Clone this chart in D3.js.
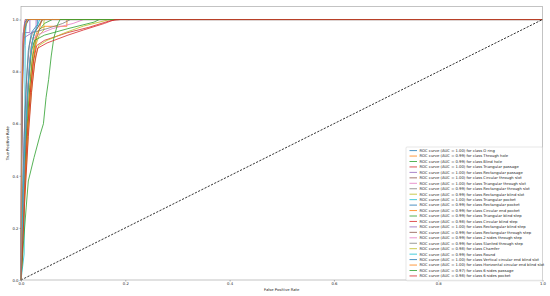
<!DOCTYPE html>
<html><head><meta charset="utf-8">
<script src="https://cdn.jsdelivr.net/npm/d3@7"></script>
<style>html,body{margin:0;padding:0;background:#fff;}svg{display:block;font-family:"DejaVu Sans",sans-serif;}</style>
</head><body>
<svg id="c" width="550" height="296"></svg>
<script>
const classNames = ["O ring","Through hole","Blind hole","Triangular passage","Rectangular passage","Circular through slot","Triangular through slot","Rectangular through slot","Rectangular blind slot","Triangular pocket","Rectangular pocket","Circular end pocket","Triangular blind step","Circular blind step","Rectangular blind step","Rectangular through step","2-sides through step","Slanted through step","Chamfer","Round","Vertical circular end blind slot","Horizontal circular end blind slot","6-sides passage","6-sides pocket"];
const aucValues = ["1.00","0.99","0.99","1.00","1.00","1.00","1.00","0.99","0.99","1.00","0.99","0.99","0.99","0.98","1.00","0.99","0.99","0.99","0.98","0.99","1.00","1.00","0.97","0.98"];
const lineColors = ["#1f77b4","#ff7f0e","#2ca02c","#d62728","#9467bd","#8c564b","#e377c2","#7f7f7f","#bcbd22","#17becf"];
const xTicks = [0.0,0.2,0.4,0.6,0.8,1.0];
const yTicks = [0.0,0.2,0.4,0.6,0.8,1.0];
// [fpr, tpr] points for each class
const rocPoints = [
 [[0,0],[0.001,0.30],[0.002,0.62],[0.004,0.85],[0.006,0.95],[0.010,0.985],[0.016,1],[1,1]],
 [[0,0],[0.004,0.25],[0.008,0.45],[0.013,0.62],[0.018,0.78],[0.024,0.90],[0.030,0.95],[0.037,0.965],[0.046,0.974],[0.088,0.974],[0.088,1],[1,1]],
 [[0,0],[0.003,0.20],[0.007,0.42],[0.012,0.60],[0.017,0.74],[0.022,0.85],[0.028,0.92],[0.035,0.96],[0.045,0.985],[0.060,1],[1,1]],
 [[0,0],[0.001,0.45],[0.002,0.70],[0.003,0.88],[0.005,0.96],[0.008,1],[1,1]],
 [[0,0],[0.001,0.40],[0.002,0.72],[0.004,0.95],[0.017,0.95],[0.017,1],[1,1]],
 [[0,0],[0.001,0.50],[0.003,0.80],[0.006,0.94],[0.010,0.98],[0.014,1],[1,1]],
 [[0,0],[0.001,0.55],[0.002,0.80],[0.004,0.93],[0.007,0.99],[0.010,1],[1,1]],
 [[0,0],[0.004,0.30],[0.008,0.52],[0.012,0.70],[0.016,0.82],[0.020,0.90],[0.026,0.95],[0.035,0.98],[0.040,1],[1,1]],
 [[0,0],[0.005,0.28],[0.010,0.48],[0.016,0.68],[0.022,0.82],[0.028,0.90],[0.035,0.94],[0.044,0.96],[0.044,0.995],[0.046,1],[1,1]],
 [[0,0],[0.006,0.10],[0.007,0.50],[0.008,0.90],[0.010,1],[1,1]],
 [[0,0],[0.003,0.30],[0.006,0.55],[0.010,0.75],[0.014,0.88],[0.020,0.95],[0.030,0.977],[0.032,0.977],[0.032,1],[1,1]],
 [[0,0],[0.006,0.30],[0.012,0.55],[0.018,0.72],[0.024,0.85],[0.030,0.93],[0.036,0.97],[0.040,1],[1,1]],
 [[0,0],[0.004,0.30],[0.009,0.55],[0.014,0.75],[0.020,0.88],[0.026,0.92],[0.045,0.94],[0.090,0.965],[0.140,0.99],[0.150,1],[1,1]],
 [[0,0],[0.006,0.30],[0.012,0.55],[0.018,0.72],[0.024,0.84],[0.030,0.90],[0.045,0.92],[0.090,0.95],[0.130,0.97],[0.170,0.995],[0.190,1],[1,1]],
 [[0,0],[0.001,0.40],[0.003,0.75],[0.006,0.93],[0.029,0.96],[0.029,1],[1,1]],
 [[0,0],[0.005,0.35],[0.010,0.60],[0.015,0.78],[0.020,0.90],[0.026,0.95],[0.034,0.975],[0.042,1],[1,1]],
 [[0,0],[0.004,0.30],[0.008,0.55],[0.012,0.72],[0.017,0.85],[0.022,0.92],[0.030,0.94],[0.060,0.965],[0.100,0.985],[0.120,1],[1,1]],
 [[0,0],[0.003,0.35],[0.007,0.60],[0.011,0.78],[0.016,0.90],[0.022,0.95],[0.050,0.965],[0.080,0.985],[0.095,1],[1,1]],
 [[0,0],[0.008,0.35],[0.015,0.60],[0.022,0.76],[0.028,0.86],[0.034,0.90],[0.050,0.92],[0.085,0.95],[0.120,0.975],[0.170,1],[1,1]],
 [[0,0],[0.003,0.25],[0.007,0.50],[0.012,0.70],[0.017,0.84],[0.023,0.93],[0.030,0.97],[0.036,1],[1,1]],
 [[0,0],[0.001,0.50],[0.003,0.80],[0.005,0.94],[0.008,0.99],[0.012,1],[1,1]],
 [[0,0],[0.001,0.40],[0.002,0.70],[0.004,0.90],[0.007,0.97],[0.012,1],[1,1]],
 [[0,0],[0.005,0.15],[0.010,0.28],[0.014,0.38],[0.025,0.47],[0.037,0.56],[0.043,0.60],[0.048,0.70],[0.053,0.77],[0.058,0.86],[0.063,0.93],[0.070,0.98],[0.075,1],[1,1]],
 [[0,0],[0.007,0.30],[0.014,0.55],[0.020,0.72],[0.026,0.83],[0.032,0.89],[0.050,0.91],[0.090,0.94],[0.120,0.96],[0.160,0.985],[0.180,1],[1,1]]
];
const diagonal = [[0,0],[1,1]];

(function(){
const svg = d3.select("#c");
const pL = 21, pR = 542.5, pT = 6.5, pB = 280;
const x = d3.scaleLinear().domain([0,1]).range([pL, pR]);
const y = d3.scaleLinear().domain([0,1.05]).range([pB, pT]);
const fs = 3.8, lfs = 3.75;

const line = d3.line().x(d=>x(d[0])).y(d=>y(d[1]));
const g = svg.append("g");
rocPoints.forEach((pts,i)=>{
  g.append("path").attr("d", line(pts)).attr("fill","none")
   .attr("stroke", lineColors[i%10]).attr("stroke-width",0.8);
});
g.append("path").attr("d", line(diagonal)).attr("fill","none")
 .attr("stroke","#000").attr("stroke-width",0.8).attr("stroke-dasharray","2.2,1.4");

svg.append("rect").attr("x",pL).attr("y",pT).attr("width",pR-pL).attr("height",pB-pT)
 .attr("fill","none").attr("stroke","#aaa").attr("stroke-width",0.7);

const xa = svg.append("g").attr("transform",`translate(0,${pB})`)
 .call(d3.axisBottom(x).tickValues(xTicks).tickFormat(d3.format(".1f")).tickSize(1.5).tickPadding(1));
const ya = svg.append("g").attr("transform",`translate(${pL},0)`)
 .call(d3.axisLeft(y).tickValues(yTicks).tickFormat(d3.format(".1f")).tickSize(1.5).tickPadding(1));
[xa,ya].forEach(a=>{
  a.select(".domain").remove();
  a.selectAll("line").attr("stroke","#666").attr("stroke-width",0.5);
  a.selectAll("text").attr("font-size",fs).attr("fill","#222").attr("font-family","DejaVu Sans");
});

svg.append("text").attr("x",(pL+pR)/2).attr("y",291).attr("text-anchor","middle")
 .attr("font-size",fs).attr("fill","#222").text("False Positive Rate");
svg.append("text").attr("transform",`translate(9,${(pT+pB)/2}) rotate(-90)`).attr("text-anchor","middle")
 .attr("font-size",fs).attr("fill","#222").text("True Positive Rate");

const lgX = 406, lgY = 147, rowH = 5.45, lgW = 136.5;
const lg = svg.append("g");
lg.append("rect").attr("x",lgX).attr("y",lgY).attr("width",lgW).attr("height",rowH*classNames.length+3)
 .attr("rx",1).attr("fill","#fff").attr("fill-opacity",0.8).attr("stroke","#ccc").attr("stroke-width",0.5);
classNames.forEach((n,i)=>{
  const cy = lgY + 3.6 + i*rowH;
  lg.append("line").attr("x1",lgX+3.5).attr("x2",lgX+11).attr("y1",cy).attr("y2",cy)
    .attr("stroke",lineColors[i%10]).attr("stroke-width",0.8);
  lg.append("text").attr("x",lgX+13.5).attr("y",cy+1.35).attr("font-size",lfs).attr("fill","#222")
    .text(`ROC curve (AUC = ${aucValues[i]}) for class ${n}`);
});
})();
</script>
</body></html>
